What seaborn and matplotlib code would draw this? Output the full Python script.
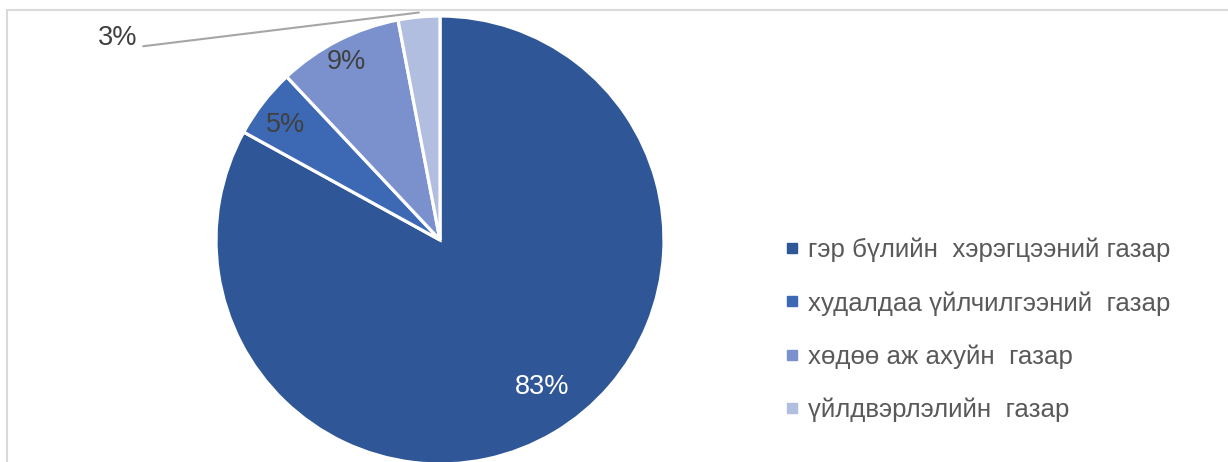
import matplotlib.pyplot as plt
import seaborn as sns
from matplotlib.lines import Line2D
import numpy as np

sns.set_theme(style="white")
plt.rcParams['font.family'] = ['Liberation Sans', 'DejaVu Sans']

# data
categories = ['гэр бүлийн  хэрэгцээний газар', 'худалдаа үйлчилгээний  газар',
              'хөдөө аж ахуйн  газар', 'үйлдвэрлэлийн  газар']
shares = [83, 5, 9, 3]
colors = ['#2F5696', '#3D69B4', '#7A91CE', '#B2BEE0']
label_colors = ['white', '#404040', '#404040', '#404040']
label_dist = [0.80, 0.86, 0.90, None]   # None -> outside with leader line
label_shift = [4.1, 1.1, 0.7, 0]        # degrees, like excel's manual nudging

W, H = 1228, 462
fig = plt.figure(figsize=(W / 100, H / 100), dpi=100)
ax = fig.add_axes([0, 0, 1, 1])

# pie centre / radius in pixels
cx, cy, r = 440, 240, 224
wedges, _ = ax.pie(shares, colors=colors, startangle=90, counterclock=False,
                   wedgeprops=dict(edgecolor='white', linewidth=2.3))
ax.set_aspect('auto')
ax.set_xlim(-cx / r, (W - cx) / r)
ax.set_ylim(-(H - cy) / r, cy / r)
ax.axis('off')

for w, s, d, sh, c in zip(wedges, shares, label_dist, label_shift, label_colors):
    mid = np.deg2rad((w.theta1 + w.theta2) / 2 + sh)
    if d is not None:
        ax.text(d * np.cos(mid), d * np.sin(mid), f'{s}%', ha='center', va='center',
                fontsize=19.5, color=c)
    else:
        px, py = np.cos(mid), np.sin(mid)
        tx, ty = -1.44, 0.90
        ax.plot([tx + 0.115, px], [ty - 0.035, py + 0.02], color='#A6A6A6', lw=1.5,
                clip_on=False)
        ax.text(tx, ty, f'{s}%', ha='center', va='center', fontsize=19.5, color='#404040')

handles = [Line2D([], [], marker='s', ls='', markersize=7, color=c) for c in colors]
fig.legend(handles, categories, loc='center left', bbox_to_anchor=(761 / W, 1 - 330 / H),
           frameon=False, fontsize=18.6, labelcolor='#595959', handlelength=0.6,
           handletextpad=0.3, labelspacing=1.12)

# chart area border
fig.add_artist(plt.Rectangle((7 / W, -0.1), 1.2, 1 - 10 / H + 0.1, transform=fig.transFigure,
                             fill=False, edgecolor='#D9D9D9', lw=1.5))

fig.savefig('out.png', dpi=100)
